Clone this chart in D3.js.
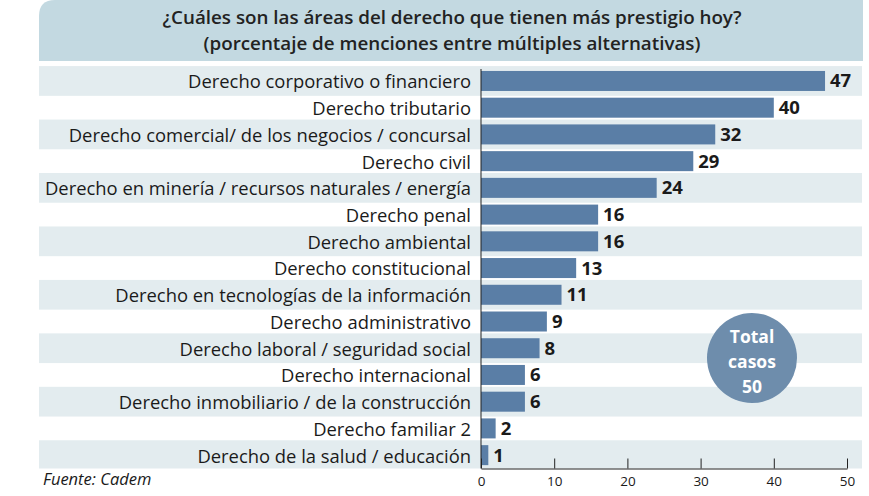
<html>
<head>
<meta charset="utf-8">
<script src="https://d3js.org/d3.v7.min.js"></script>
<style>
  body { margin: 0; background: #fff; }
  text { font-family: "Open Sans", Lato, sans-serif; }
</style>
</head>
<body>
<svg id="chart" width="869" height="496"></svg>
<script>
// data
const categories = [
  "Derecho corporativo o financiero",
  "Derecho tributario",
  "Derecho comercial/ de los negocios / concursal",
  "Derecho civil",
  "Derecho en minería / recursos naturales / energía",
  "Derecho penal",
  "Derecho ambiental",
  "Derecho constitucional",
  "Derecho en tecnologías de la información",
  "Derecho administrativo",
  "Derecho laboral / seguridad social",
  "Derecho internacional",
  "Derecho inmobiliario / de la construcción",
  "Derecho familiar 2",
  "Derecho de la salud / educación"
];
const values = [47, 40, 32, 29, 24, 16, 16, 13, 11, 9, 8, 6, 6, 2, 1];
const xTicks = [0, 10, 20, 30, 40, 50];
const titleLines = [
  "¿Cuáles son las áreas del derecho que tienen más prestigio hoy?",
  "(porcentaje de menciones entre múltiples alternativas)"
];
const totalLines = ["Total", "casos", "50"];
const source = "Fuente: Cadem";

const svg = d3.select("#chart");

const plotLeft = 481, plotRight = 847, plotTop = 67.6, plotBottom = 468.5;

const x = d3.scaleLinear().domain([0, 50]).range([plotLeft, plotRight]);
const y = d3.scaleBand().domain(categories).range([plotTop, plotBottom]);

// title box with rounded top-left corner
const tb = { x0: 39, x1: 863, y0: 0, y1: 61, r: 16 };
svg.append("path")
  .attr("d", "M" + tb.x0 + "," + tb.y1 +
    " L" + tb.x0 + "," + (tb.y0 + tb.r) +
    " Q" + tb.x0 + "," + tb.y0 + " " + (tb.x0 + tb.r) + "," + tb.y0 +
    " L" + tb.x1 + "," + tb.y0 + " L" + tb.x1 + "," + tb.y1 + " Z")
  .attr("fill", "#c3d9e1");

svg.selectAll(".title")
  .data(titleLines)
  .enter().append("text")
  .attr("class", "title")
  .attr("x", 452)
  .attr("y", (d, i) => 24 + i * 25.5)
  .attr("text-anchor", "middle")
  .attr("font-size", 18.8)
  .attr("font-weight", 600)
  .attr("fill", "#222")
  .text(d => d);

// alternating stripes
svg.append("g")
  .selectAll("rect")
  .data(categories.filter((d, i) => i % 2 === 0))
  .enter().append("rect")
  .attr("x", 39)
  .attr("width", 862 - 39)
  .attr("y", d => y(d) - 1.5)
  .attr("height", d => Math.min(y.step() + 3, plotBottom - (y(d) - 1.5)))
  .attr("fill", "#e3ecef");

// bars
svg.append("g")
  .selectAll("rect")
  .data(values)
  .enter().append("rect")
  .attr("x", x(0))
  .attr("y", (d, i) => y(categories[i]) + y.step() / 2 - 10)
  .attr("width", d => x(d) - x(0))
  .attr("height", 20)
  .attr("fill", "#5a7ea6");

// category labels
svg.append("g")
  .selectAll("text")
  .data(categories)
  .enter().append("text")
  .attr("x", 471)
  .attr("y", d => y(d) + y.step() / 2 + 1)
  .attr("dy", "0.35em")
  .attr("text-anchor", "end")
  .attr("font-size", 18.4)
  .attr("fill", "#1a1a1a")
  .text(d => d);

// value labels
svg.append("g")
  .selectAll("text")
  .data(values)
  .enter().append("text")
  .attr("x", d => x(d) + 5)
  .attr("y", (d, i) => y(categories[i]) + y.step() / 2)
  .attr("dy", "0.35em")
  .attr("font-size", 18.5)
  .attr("font-weight", "bold")
  .attr("fill", "#1a1a1a")
  .text(d => d);

// vertical baseline
svg.append("line")
  .attr("x1", x(0)).attr("x2", x(0))
  .attr("y1", 69).attr("y2", plotBottom)
  .attr("stroke", "#222").attr("stroke-width", 1);

// x axis with inward ticks
const xAxis = d3.axisBottom(x)
  .tickValues(xTicks)
  .tickSizeInner(-10)
  .tickSizeOuter(0)
  .tickPadding(8);

const gx = svg.append("g")
  .attr("transform", "translate(0," + plotBottom + ")")
  .call(xAxis);
gx.select(".domain").attr("stroke", "#222");
gx.selectAll(".tick line").attr("stroke", "#222");
gx.selectAll(".tick text")
  .attr("font-size", 13.5)
  .attr("font-family", "'Open Sans', sans-serif")
  .attr("fill", "#1a1a1a");

// total cases bubble
svg.append("circle")
  .attr("cx", 752).attr("cy", 358).attr("r", 45)
  .attr("fill", "#6e8dac");
svg.selectAll(".total")
  .data(totalLines)
  .enter().append("text")
  .attr("class", "total")
  .attr("x", 752)
  .attr("y", (d, i) => 343 + i * 25)
  .attr("text-anchor", "middle")
  .attr("font-size", 17.5)
  .attr("font-weight", "bold")
  .attr("fill", "#fff")
  .text(d => d);

// source
svg.append("text")
  .attr("x", 43)
  .attr("y", 485)
  .attr("font-size", 16.5)
  .attr("font-style", "italic")
  .attr("fill", "#1a1a1a")
  .text(source);
</script>
</body>
</html>
